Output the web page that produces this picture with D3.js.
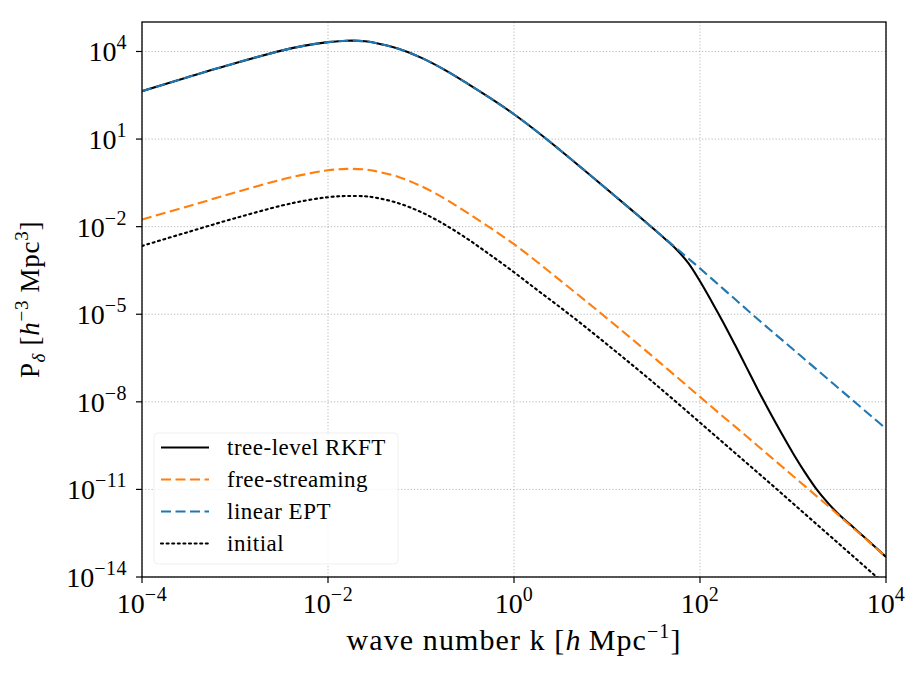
<!DOCTYPE html>
<html>
<head>
<meta charset="utf-8">
<script src="https://cdn.jsdelivr.net/npm/d3@7"></script>
<style>
  html, body { margin: 0; padding: 0; background: #fff; }
  svg { display: block; }
  text { font-family: "Liberation Serif", "Times New Roman", serif; fill: #000; }
</style>
</head>
<body>
<svg id="chart" width="922" height="677"></svg>
<script>
// log10 of wave number k [h/Mpc]
const logK = [-4, -3.5, -3, -2.5, -2.25, -2, -1.8, -1.6, -1.5, -1.25, -1, -0.75, -0.5, -0.25, 0, 0.25, 0.5, 0.75, 1, 1.25, 1.5,
  1.625, 1.75, 1.875, 2, 2.125, 2.25, 2.375, 2.5, 2.625, 2.75, 2.875, 3, 3.125, 3.25, 3.375, 3.5, 3.625, 3.75, 3.875, 4];
// log10 of P_delta for each series
const logTree = [2.64, 3.13, 3.60, 4.03, 4.20, 4.32, 4.37, 4.35, 4.30, 4.10, 3.79, 3.38, 2.90, 2.39, 1.85, 1.25, 0.61, -0.05, -0.72, -1.39, -2.07,
  -2.42, -2.79, -3.25, -3.87, -4.56, -5.28, -6.04, -6.82, -7.60, -8.35, -9.07, -9.76, -10.40, -10.98, -11.46, -11.88, -12.23, -12.59, -12.95, -13.31];
const logFree = [-1.755, -1.30, -0.83, -0.39, -0.21, -0.07, -0.02, -0.04, -0.09, -0.29, -0.61, -1.03, -1.53, -2.05, -2.60, -3.21, -3.85, -4.49, -5.14, -5.80, -6.47,
  -6.81, -7.15, -7.49, -7.83, -8.17, -8.51, -8.84, -9.18, -9.52, -9.86, -10.20, -10.54, -10.88, -11.22, -11.56, -11.91, -12.26, -12.61, -12.96, -13.31];
const logEPT = [2.64, 3.13, 3.60, 4.03, 4.20, 4.32, 4.37, 4.35, 4.30, 4.10, 3.79, 3.38, 2.90, 2.39, 1.85, 1.25, 0.61, -0.05, -0.72, -1.39, -2.07,
  -2.41, -2.75, -3.09, -3.43, -3.78, -4.13, -4.48, -4.83, -5.18, -5.52, -5.86, -6.20, -6.54, -6.88, -7.22, -7.56, -7.90, -8.24, -8.58, -8.92];
const logInit = [-2.66, -2.18, -1.71, -1.28, -1.11, -0.99, -0.95, -0.96, -1.00, -1.19, -1.50, -1.92, -2.42, -2.98, -3.56, -4.17, -4.77, -5.39, -6.03, -6.68, -7.34,
  -7.68, -8.02, -8.365, -8.71, -9.055, -9.40, -9.745, -10.09, -10.435, -10.78, -11.13, -11.48, -11.83, -12.18, -12.53, -12.88, -13.23, -13.58, -13.93, -14.28];

const seriesNames = ["tree-level RKFT", "free-streaming", "linear EPT", "initial"];
const seriesColors = ["#000000", "#ff7f0e", "#1f77b4", "#000000"];
const seriesDash = [null, "10,4.5", "10,4.5", "2,3.6"];
const seriesData = [logTree, logFree, logEPT, logInit];

const xTickExp = [-4, -2, 0, 2, 4];
const yTickExp = [-14, -11, -8, -5, -2, 1, 4];

const W = 922, H = 677;
const M = {left: 142, top: 22, right: 36, bottom: 100};
const svg = d3.select("#chart");

const x = d3.scaleLog().domain([1e-4, 1e4]).range([M.left, W - M.right]);
const y = d3.scaleLog().domain([1e-14, Math.pow(10, 5.01)]).range([H - M.bottom, M.top]);

const x0 = M.left, x1 = W - M.right, y0 = H - M.bottom, y1 = M.top;

// grid
const grid = svg.append("g");
xTickExp.forEach(e => {
  grid.append("line").attr("x1", x(Math.pow(10, e))).attr("x2", x(Math.pow(10, e)))
    .attr("y1", y1).attr("y2", y0)
    .attr("stroke", "#b0b0b0").attr("stroke-width", 0.9).attr("stroke-dasharray", "1.2,2");
});
yTickExp.forEach(e => {
  grid.append("line").attr("y1", y(Math.pow(10, e))).attr("y2", y(Math.pow(10, e)))
    .attr("x1", x0).attr("x2", x1)
    .attr("stroke", "#b0b0b0").attr("stroke-width", 0.9).attr("stroke-dasharray", "1.2,2");
});

// clip
svg.append("clipPath").attr("id", "clip").append("rect")
  .attr("x", x0).attr("y", y1).attr("width", x1 - x0).attr("height", y0 - y1);

const line = d3.line()
  .x(d => x(Math.pow(10, d[0])))
  .y(d => y(Math.pow(10, d[1])))
  .curve(d3.curveCatmullRom.alpha(0.5));

const plot = svg.append("g").attr("clip-path", "url(#clip)");
seriesData.forEach((arr, i) => {
  const pts = logK.map((k, j) => [k, arr[j]]);
  plot.append("path").attr("d", line(pts))
    .attr("fill", "none")
    .attr("stroke", seriesColors[i])
    .attr("stroke-width", 2.1)
    .attr("stroke-dasharray", seriesDash[i])
    .attr("stroke-linecap", i === 3 ? "round" : "butt");
});

// frame
svg.append("rect").attr("x", x0).attr("y", y1).attr("width", x1 - x0).attr("height", y0 - y1)
  .attr("fill", "none").attr("stroke", "#000").attr("stroke-width", 1.3);

// ticks
const axG = svg.append("g");
const supText = e => (e < 0 ? "\u2212" + (-e) : String(e));
xTickExp.forEach(e => {
  const px = x(Math.pow(10, e));
  axG.append("line").attr("x1", px).attr("x2", px).attr("y1", y0).attr("y2", y0 + 6)
    .attr("stroke", "#000").attr("stroke-width", 1.2);
  const t = axG.append("text").attr("x", px).attr("y", y0 + 36).attr("text-anchor", "middle")
    .style("font-size", "28px");
  t.append("tspan").text("10");
  t.append("tspan").attr("dy", -12).style("font-size", "20px").style("letter-spacing", "0.5px").text(supText(e));
});
yTickExp.forEach(e => {
  const py = y(Math.pow(10, e));
  axG.append("line").attr("x1", x0 - 6).attr("x2", x0).attr("y1", py).attr("y2", py)
    .attr("stroke", "#000").attr("stroke-width", 1.2);
  const t = axG.append("text").attr("x", x0 - 15).attr("y", py + 10).attr("text-anchor", "end")
    .style("font-size", "28px");
  t.append("tspan").text("10");
  t.append("tspan").attr("dy", -12).style("font-size", "20px").style("letter-spacing", "0.5px").text(supText(e));
});

// x label
const xl = svg.append("text").attr("x", (x0 + x1) / 2).attr("y", 650).attr("text-anchor", "middle")
  .style("font-size", "30px").style("letter-spacing", "1.1px");
xl.append("tspan").text("wave number k [");
xl.append("tspan").style("font-style", "italic").text("h");
xl.append("tspan").text("\u2009Mpc");
xl.append("tspan").attr("dy", -12).style("font-size", "20px").text("\u22121");
xl.append("tspan").attr("dy", 12).text("]");

// y label
const yl = svg.append("text").attr("transform", `translate(39,${(y0 + y1) / 2}) rotate(-90)`)
  .attr("text-anchor", "middle").style("font-size", "27px").style("letter-spacing", "0.7px");
yl.append("tspan").text("P");
yl.append("tspan").attr("dy", 6).style("font-size", "19px").style("font-style", "italic").text("\u03b4");
yl.append("tspan").attr("dy", -6).text(" [");
yl.append("tspan").style("font-style", "italic").text("h");
yl.append("tspan").attr("dy", -11).style("font-size", "19px").text("\u22123");
yl.append("tspan").attr("dy", 11).text(" Mpc");
yl.append("tspan").attr("dy", -11).style("font-size", "19px").text("3");
yl.append("tspan").attr("dy", 11).text("]");

// legend
const lg = svg.append("g");
lg.append("rect").attr("x", 154).attr("y", 433).attr("width", 244).attr("height", 131)
  .attr("rx", 4).attr("fill", "#fff").attr("fill-opacity", 0.8).attr("stroke", "#f0f0f0");
seriesNames.forEach((name, i) => {
  const ly = 447.5 + i * 32;
  lg.append("line").attr("x1", 161).attr("x2", 209).attr("y1", ly).attr("y2", ly)
    .attr("stroke", seriesColors[i]).attr("stroke-width", 2.1)
    .attr("stroke-dasharray", seriesDash[i])
    .attr("stroke-linecap", i === 3 ? "round" : "butt");
  lg.append("text").attr("x", 227).attr("y", ly + 7).style("font-size", "23px")
    .style("letter-spacing", "0.5px").text(name);
});
</script>
</body>
</html>
